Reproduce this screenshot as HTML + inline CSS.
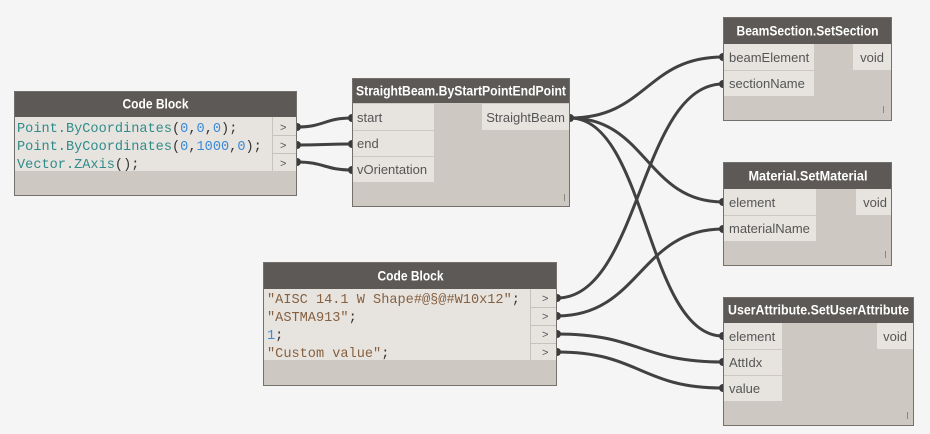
<!DOCTYPE html>
<html><head><meta charset="utf-8"><style>
html,body{margin:0;padding:0;background:#f5f5f5;}
svg{display:block;}
.h{font-family:"Liberation Sans",sans-serif;font-weight:bold;font-size:13.5px;fill:#fff;}
.l{font-family:"Liberation Sans",sans-serif;font-size:13px;fill:#555;}
.c{font-family:"Liberation Mono",monospace;font-size:13.6px;fill:#333;}
.p{font-family:"Liberation Sans",sans-serif;font-size:11px;fill:#555;}
.w{fill:none;stroke:#414141;stroke-width:3;}
</style></head><body>
<svg width="930" height="434" viewBox="0 0 930 434" xmlns="http://www.w3.org/2000/svg">
<rect width="930" height="434" fill="#f5f5f5"/>

<!-- Code Block 1 -->
<rect x="14.5" y="91.5" width="282" height="104" fill="#cdc9c2" stroke="#74716c"/>
<rect x="15" y="92" width="281" height="25" fill="#5c5956"/>
<text class="h" x="155.5" y="108.5" text-anchor="middle" textLength="66" lengthAdjust="spacingAndGlyphs">Code Block</text>
<rect x="15" y="117" width="281" height="54" fill="#e7e4e0"/>
<line x1="272.5" y1="117" x2="272.5" y2="171" stroke="#c6c2bc"/>
<line x1="272" y1="135.5" x2="296" y2="135.5" stroke="#c6c2bc"/>
<line x1="272" y1="153.5" x2="296" y2="153.5" stroke="#c6c2bc"/>
<text class="c" x="17" y="132"><tspan fill="#2f8c8a">Point.ByCoordinates</tspan>(<tspan fill="#3a8ad6">0</tspan>,<tspan fill="#3a8ad6">0</tspan>,<tspan fill="#3a8ad6">0</tspan>);</text>
<text class="c" x="17" y="150"><tspan fill="#2f8c8a">Point.ByCoordinates</tspan>(<tspan fill="#3a8ad6">0</tspan>,<tspan fill="#3a8ad6">1000</tspan>,<tspan fill="#3a8ad6">0</tspan>);</text>
<text class="c" x="17" y="168"><tspan fill="#2f8c8a">Vector.ZAxis</tspan>();</text>
<text class="p" x="280" y="131">&gt;</text>
<text class="p" x="280" y="149">&gt;</text>
<text class="p" x="280" y="167">&gt;</text>

<!-- StraightBeam -->
<rect x="352.5" y="78.5" width="217" height="128" fill="#cdc9c2" stroke="#74716c"/>
<rect x="353" y="79" width="216" height="24" fill="#5c5956"/>
<text class="h" x="461" y="95.5" text-anchor="middle" textLength="210" lengthAdjust="spacingAndGlyphs">StraightBeam.ByStartPointEndPoint</text>
<rect x="353" y="104" width="81" height="26" fill="#e7e4e0"/>
<rect x="353" y="131" width="81" height="25" fill="#e7e4e0"/>
<rect x="353" y="157" width="81" height="25" fill="#e7e4e0"/>
<rect x="482" y="104" width="87" height="26" fill="#e7e4e0"/>
<text class="l" x="357" y="122">start</text>
<text class="l" x="357" y="148">end</text>
<text class="l" x="357" y="174">vOrientation</text>
<text class="l" x="565" y="122" text-anchor="end">StraightBeam</text>
<line x1="564.5" y1="194" x2="564.5" y2="201" stroke="#8a8782"/>

<!-- Code Block 2 -->
<rect x="263.5" y="262.5" width="293" height="123" fill="#cdc9c2" stroke="#74716c"/>
<rect x="264" y="263" width="292" height="26" fill="#5c5956"/>
<text class="h" x="410.5" y="280.5" text-anchor="middle" textLength="66" lengthAdjust="spacingAndGlyphs">Code Block</text>
<rect x="264" y="289" width="292" height="71" fill="#e7e4e0"/>
<line x1="530.5" y1="289" x2="530.5" y2="360" stroke="#c6c2bc"/>
<line x1="530" y1="307.5" x2="556" y2="307.5" stroke="#c6c2bc"/>
<line x1="530" y1="325.5" x2="556" y2="325.5" stroke="#c6c2bc"/>
<line x1="530" y1="343.5" x2="556" y2="343.5" stroke="#c6c2bc"/>
<text class="c" x="267" y="303"><tspan fill="#86603f">"AISC 14.1 W Shape#@§@#W10x12"</tspan>;</text>
<text class="c" x="267" y="321"><tspan fill="#86603f">"ASTMA913"</tspan>;</text>
<text class="c" x="267" y="339"><tspan fill="#3a8ad6">1</tspan>;</text>
<text class="c" x="267" y="357"><tspan fill="#86603f">"Custom value"</tspan>;</text>
<text class="p" x="542" y="302">&gt;</text>
<text class="p" x="542" y="320">&gt;</text>
<text class="p" x="542" y="338">&gt;</text>
<text class="p" x="542" y="356">&gt;</text>

<!-- BeamSection.SetSection -->
<rect x="723.5" y="17.5" width="168" height="103" fill="#cdc9c2" stroke="#74716c"/>
<rect x="724" y="18" width="167" height="26" fill="#5c5956"/>
<text class="h" x="807.5" y="35.5" text-anchor="middle" textLength="142" lengthAdjust="spacingAndGlyphs">BeamSection.SetSection</text>
<rect x="724" y="44" width="90" height="26" fill="#e7e4e0"/>
<rect x="724" y="71" width="90" height="25" fill="#e7e4e0"/>
<rect x="853" y="44" width="38" height="26" fill="#e7e4e0"/>
<text class="l" x="729" y="62">beamElement</text>
<text class="l" x="729" y="88">sectionName</text>
<text class="l" x="884" y="62" text-anchor="end">void</text>
<line x1="883.5" y1="106" x2="883.5" y2="113" stroke="#8a8782"/>

<!-- Material.SetMaterial -->
<rect x="723.5" y="162.5" width="168" height="103" fill="#cdc9c2" stroke="#74716c"/>
<rect x="724" y="163" width="167" height="26" fill="#5c5956"/>
<text class="h" x="808" y="180.5" text-anchor="middle" textLength="119" lengthAdjust="spacingAndGlyphs">Material.SetMaterial</text>
<rect x="724" y="189" width="92" height="26" fill="#e7e4e0"/>
<rect x="724" y="216" width="92" height="25" fill="#e7e4e0"/>
<rect x="856" y="189" width="35" height="26" fill="#e7e4e0"/>
<text class="l" x="729" y="207">element</text>
<text class="l" x="729" y="233">materialName</text>
<text class="l" x="887" y="207" text-anchor="end">void</text>
<line x1="885.5" y1="251" x2="885.5" y2="258" stroke="#8a8782"/>

<!-- UserAttribute.SetUserAttribute -->
<rect x="723.5" y="297.5" width="190" height="128" fill="#cdc9c2" stroke="#74716c"/>
<rect x="724" y="298" width="189" height="25" fill="#5c5956"/>
<text class="h" x="818.5" y="314.5" text-anchor="middle" textLength="181" lengthAdjust="spacingAndGlyphs">UserAttribute.SetUserAttribute</text>
<rect x="724" y="323" width="58" height="26" fill="#e7e4e0"/>
<rect x="724" y="350" width="58" height="25" fill="#e7e4e0"/>
<rect x="724" y="376" width="58" height="25" fill="#e7e4e0"/>
<rect x="877" y="323" width="36" height="26" fill="#e7e4e0"/>
<text class="l" x="729" y="341">element</text>
<text class="l" x="729" y="367">AttIdx</text>
<text class="l" x="729" y="393">value</text>
<text class="l" x="907" y="341" text-anchor="end">void</text>
<line x1="907.5" y1="412" x2="907.5" y2="419" stroke="#8a8782"/>

<!-- Wires -->
<path class="w" d="M297,127 C324.5,127 324.5,118 352,118"/>
<path class="w" d="M297,145 C324.5,145 324.5,144 352,144"/>
<path class="w" d="M297,162 C324.5,162 324.5,170 352,170"/>

<path class="w" d="M570,118 C646.5,118 646.5,57 723,57"/>
<path class="w" d="M570,118 C646.5,118 646.5,202 723,202"/>
<path class="w" d="M570,118 C646.5,118 646.5,336 723,336"/>

<path class="w" d="M557,298 C640,298 640,84 723,84"/>
<path class="w" d="M557,316 C640,316 640,229 723,229"/>
<path class="w" d="M557,334 C640,334 640,362 723,362"/>
<path class="w" d="M557,352 C640,352 640,388 723,388"/>

<!-- Port nubs -->
<g fill="#3c3c3c">
<path d="M297,123 a4,4 0 0 1 0,8 z"/>
<path d="M297,141 a4,4 0 0 1 0,8 z"/>
<path d="M297,158 a4,4 0 0 1 0,8 z"/>
<path d="M352,114 a4,4 0 0 0 0,8 z"/>
<path d="M352,140 a4,4 0 0 0 0,8 z"/>
<path d="M352,166 a4,4 0 0 0 0,8 z"/>
<path d="M570,114 a4,4 0 0 1 0,8 z"/>
<path d="M557,294 a4,4 0 0 1 0,8 z"/>
<path d="M557,312 a4,4 0 0 1 0,8 z"/>
<path d="M557,330 a4,4 0 0 1 0,8 z"/>
<path d="M557,348 a4,4 0 0 1 0,8 z"/>
<path d="M723,53 a4,4 0 0 0 0,8 z"/>
<path d="M723,80 a4,4 0 0 0 0,8 z"/>
<path d="M723,198 a4,4 0 0 0 0,8 z"/>
<path d="M723,225 a4,4 0 0 0 0,8 z"/>
<path d="M723,332 a4,4 0 0 0 0,8 z"/>
<path d="M723,358 a4,4 0 0 0 0,8 z"/>
<path d="M723,384 a4,4 0 0 0 0,8 z"/>
</g>
</svg>
</body></html>
